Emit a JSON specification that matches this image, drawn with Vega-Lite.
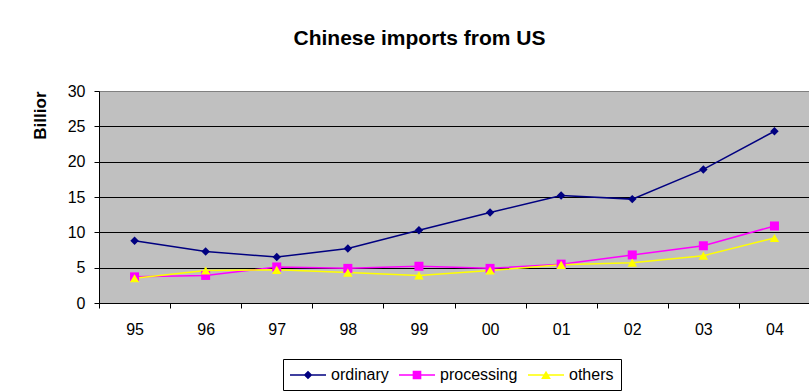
{
  "$schema": "https://vega.github.io/schema/vega-lite/v6.json",
  "width": 711,
  "height": 212,
  "autosize": {"type": "none"},
  "padding": {"left": 99, "top": 91, "right": 0, "bottom": 89},
  "background": "white",
  "config": {
    "font": "Liberation Sans",
    "view": {"fill": "#C0C0C0", "stroke": "#808080", "strokeWidth": 1}
  },
  "title": {
    "text": "Chinese imports from US",
    "fontSize": 21,
    "fontWeight": "bold",
    "font": "Liberation Sans",
    "color": "black",
    "anchor": "middle",
    "frame": "group",
    "dx": -35,
    "offset": 34
  },
  "data": {
    "values": [
      {"year": "95", "series": "ordinary", "value": 8.8},
      {"year": "96", "series": "ordinary", "value": 7.3},
      {"year": "97", "series": "ordinary", "value": 6.5},
      {"year": "98", "series": "ordinary", "value": 7.7},
      {"year": "99", "series": "ordinary", "value": 10.3},
      {"year": "00", "series": "ordinary", "value": 12.8},
      {"year": "01", "series": "ordinary", "value": 15.2},
      {"year": "02", "series": "ordinary", "value": 14.7},
      {"year": "03", "series": "ordinary", "value": 18.9},
      {"year": "04", "series": "ordinary", "value": 24.3},
      {"year": "95", "series": "processing", "value": 3.7},
      {"year": "96", "series": "processing", "value": 3.9},
      {"year": "97", "series": "processing", "value": 5.1},
      {"year": "98", "series": "processing", "value": 4.9},
      {"year": "99", "series": "processing", "value": 5.2},
      {"year": "00", "series": "processing", "value": 4.9},
      {"year": "01", "series": "processing", "value": 5.5},
      {"year": "02", "series": "processing", "value": 6.8},
      {"year": "03", "series": "processing", "value": 8.1},
      {"year": "04", "series": "processing", "value": 10.9},
      {"year": "95", "series": "others", "value": 3.5},
      {"year": "96", "series": "others", "value": 4.6},
      {"year": "97", "series": "others", "value": 4.7},
      {"year": "98", "series": "others", "value": 4.3},
      {"year": "99", "series": "others", "value": 3.9},
      {"year": "00", "series": "others", "value": 4.6},
      {"year": "01", "series": "others", "value": 5.4},
      {"year": "02", "series": "others", "value": 5.7},
      {"year": "03", "series": "others", "value": 6.7},
      {"year": "04", "series": "others", "value": 9.2}
    ]
  },
  "encoding": {
    "x": {
      "field": "year",
      "type": "ordinal",
      "sort": ["95", "96", "97", "98", "99", "00", "01", "02", "03", "04"],
      "bandPosition": 0.5,
      "scale": {"type": "band", "paddingInner": 0, "paddingOuter": 0},
      "axis": {
        "title": null,
        "labelAngle": 0,
        "labelFontSize": 16,
        "labelColor": "black",
        "labelPadding": 13,
        "tickBand": "extent",
        "tickSize": 5,
        "tickColor": "black",
        "domainColor": "black",
        "grid": false
      }
    },
    "y": {
      "field": "value",
      "type": "quantitative",
      "scale": {"domain": [0, 30]},
      "axis": {
        "values": [0, 5, 10, 15, 20, 25, 30],
        "title": "Billior",
        "titleFontSize": 17,
        "titleFontWeight": "bold",
        "titleColor": "black",
        "titleAngle": -90,
        "titleAlign": "right",
        "titleBaseline": "alphabetic",
        "titleX": -54,
        "titleY": 0,
        "labelFontSize": 16,
        "labelColor": "black",
        "labelPadding": 9,
        "tickSize": 5,
        "tickColor": "black",
        "domainColor": "black",
        "grid": true,
        "gridColor": {"condition": {"test": "datum.value === 30", "value": "#808080"}, "value": "black"},
        "gridOpacity": 1,
        "gridWidth": 1
      }
    },
    "color": {
      "field": "series",
      "type": "nominal",
      "scale": {"domain": ["ordinary", "processing", "others"], "range": ["#000080", "#FF00FF", "#FFFF00"]},
      "legend": {
        "title": null,
        "orient": "none",
        "legendX": 184,
        "legendY": 268,
        "direction": "horizontal",
        "strokeColor": "black",
        "fillColor": "white",
        "padding": 7,
        "labelFontSize": 16,
        "labelColor": "black",
        "labelOffset": 14,
        "symbolOffset": 9,
        "columnPadding": 10,
        "symbolSize": 324,
        "symbolStrokeWidth": 0,
        "encode": {
          "symbols": {
            "update": {
              "shape": {"signal": "datum.value === 'ordinary' ? 'M-2,-0.09L2,-0.09L2,0.09L-2,0.09Z M0,-0.48L0.48,0L0,0.48L-0.48,0Z' : datum.value === 'processing' ? 'M-2,-0.09L2,-0.09L2,0.09L-2,0.09Z M-0.48,-0.48L0.48,-0.48L0.48,0.48L-0.48,0.48Z' : 'M-2,-0.09L2,-0.09L2,0.09L-2,0.09Z M0,-0.48L0.54,0.44L-0.54,0.44Z'"},
              "fill": {"scale": "color", "field": "value"},
              "strokeWidth": {"value": 0},
              "opacity": {"value": 1}
            }
          }
        }
      }
    }
  },
  "layer": [
    {"mark": {"type": "line", "strokeWidth": 1.5}},
    {
      "transform": [{"filter": "datum.series === 'ordinary'"}],
      "mark": {"type": "point", "filled": true, "opacity": 1, "size": 72, "shape": "diamond"}
    },
    {
      "transform": [{"filter": "datum.series === 'processing'"}],
      "mark": {"type": "point", "filled": true, "opacity": 1, "size": 81, "shape": "square"}
    },
    {
      "transform": [{"filter": "datum.series === 'others'"}],
      "mark": {"type": "point", "filled": true, "opacity": 1, "size": 90, "shape": "triangle-up"}
    }
  ]
}
